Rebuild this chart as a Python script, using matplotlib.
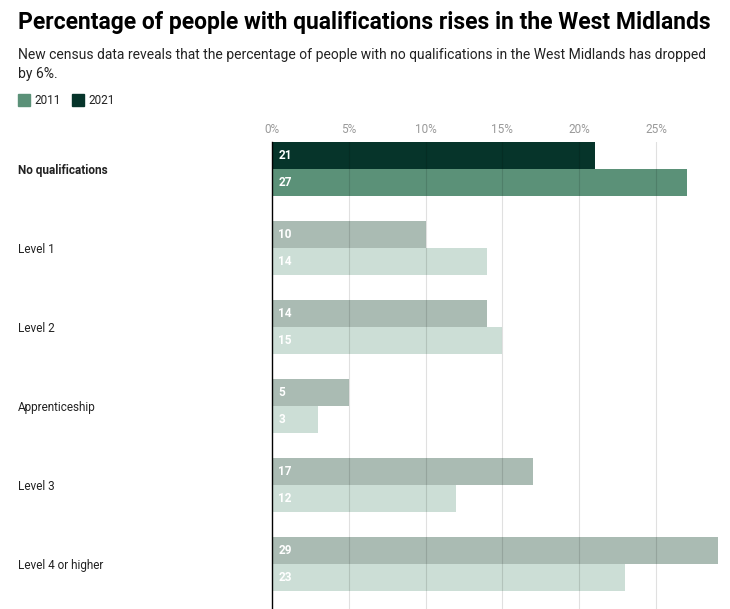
import matplotlib.pyplot as plt
import numpy as np

plt.rcParams['font.family'] = ['Roboto', 'DejaVu Sans']

categories = ['No qualifications', 'Level 1', 'Level 2', 'Apprenticeship', 'Level 3', 'Level 4 or higher']
y2021 = [21, 10, 14, 5, 17, 29]
y2011 = [27, 14, 15, 3, 12, 23]
ticks = [0, 5, 10, 15, 20, 25]

# highlight colours for the first group, muted for the rest
c2021 = ['#06342a'] + ['#aabbb3'] * 5
c2011 = ['#5b9178'] + ['#ccded6'] * 5

fig = plt.figure(figsize=(7.3, 6.09), dpi=100)
ax = fig.add_axes([272 / 730, 0, 445.5 / 730, 1 - 142 / 609])

h = 27 / 79
Y = np.arange(len(categories))
ax.barh(Y - h / 2, y2021, height=h, color=c2021, zorder=1)
ax.barh(Y + h / 2, y2011, height=h, color=c2011, zorder=1)

for i in range(len(categories)):
    ax.text(0.4, i - h / 2, str(y2021[i]), color='white', fontsize=8.5,
            fontweight='bold', va='center', ha='left', zorder=3)
    ax.text(0.4, i + h / 2, str(y2011[i]), color='white', fontsize=8.5,
            fontweight='bold', va='center', ha='left', zorder=3)

ax.set_xlim(0, 29)
ax.set_ylim(len(categories) - 1 + 45 / 79, -h)
ax.set_xticks(ticks)
ax.set_xticklabels([f'{t}%' for t in ticks])
ax.xaxis.tick_top()
ax.tick_params(axis='x', length=0, pad=4, labelsize=8.5, labelcolor='#999999')
ax.set_yticks([])
for x in ticks[1:]:
    ax.axvline(x, color='#000000', alpha=0.12, lw=0.8, zorder=2)
for s in ['top', 'right', 'bottom']:
    ax.spines[s].set_visible(False)
ax.spines['left'].set_color('#000000')
ax.spines['left'].set_linewidth(1)
ax.spines['left'].set_zorder(4)

# category labels in figure coords
for i, c in enumerate(categories):
    yy = ax.transData.transform((0, i))[1]
    fig.text(18 / 730, (yy - 2) / 609, c, fontsize=8.5, color='#222222', va='center', ha='left',
             fontweight='bold' if i == 0 else 'normal')

fig.text(18 / 730, 1 - 23 / 609, 'Percentage of people with qualifications rises in the West Midlands',
         fontsize=16.5, fontweight='bold', color='#000000', va='center', ha='left')
fig.text(18 / 730, 1 - 55 / 609, 'New census data reveals that the percentage of people with no qualifications in the West Midlands has dropped',
         fontsize=10, color='#222222', va='center', ha='left')
fig.text(18 / 730, 1 - 74 / 609, 'by 6%.', fontsize=10, color='#222222', va='center', ha='left')

# legend
fig.patches.append(plt.Rectangle((18 / 730, 1 - 106 / 609), 12 / 730, 12 / 609,
                                 transform=fig.transFigure, color='#5b9178'))
fig.text(34 / 730, 1 - 100 / 609, '2011', fontsize=8.5, color='#222222', va='center')
fig.patches.append(plt.Rectangle((72 / 730, 1 - 106 / 609), 12 / 730, 12 / 609,
                                 transform=fig.transFigure, color='#06342a'))
fig.text(88 / 730, 1 - 100 / 609, '2021', fontsize=8.5, color='#222222', va='center')

fig.savefig('out.png', dpi=100)
